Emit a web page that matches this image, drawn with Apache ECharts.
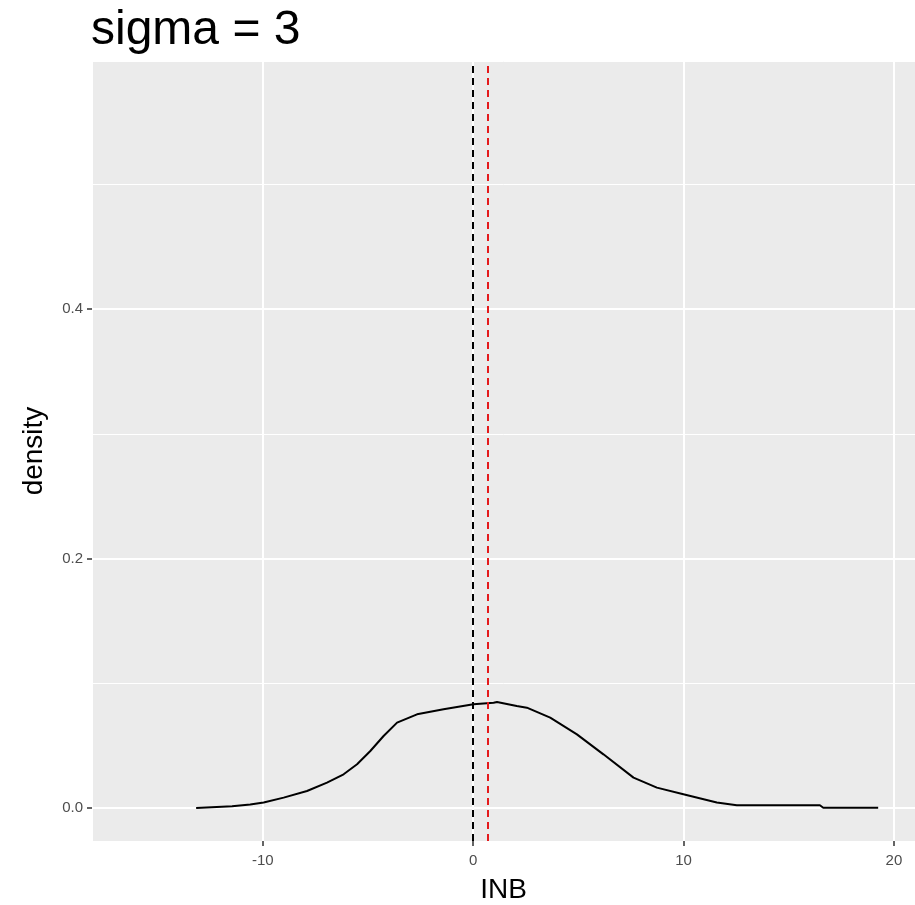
<!DOCTYPE html>
<html>
<head>
<meta charset="UTF-8">
<title>sigma = 3</title>
<script src="https://cdn.jsdelivr.net/npm/echarts@6/dist/echarts.min.js"></script>
<style>
	html, body { margin: 0; padding: 0; background: #fff; }
	#chart { width: 915px; height: 905px; }
</style>
</head>
<body>
<div id="chart"></div>
<script>
	// density curve
	var inbX = [-13.17, -11.46, -10.6, -9.96, -9.01, -7.9, -6.95, -6.16, -5.52, -4.89, -4.26, -3.62, -2.67, -1.41, 0.01, 0.97, 1.13, 2.07, 2.55, 3.66, 4.93, 6.19, 7.62, 8.73, 9.99, 11.58, 12.53, 16.48, 16.64, 19.25];
	var densityY = [0.0, 0.0014, 0.0027, 0.0043, 0.0083, 0.0136, 0.0203, 0.027, 0.035, 0.0457, 0.0577, 0.0684, 0.0751, 0.0791, 0.0831, 0.0844, 0.085, 0.0818, 0.0804, 0.0724, 0.059, 0.043, 0.0243, 0.0163, 0.011, 0.0043, 0.0022, 0.0022, 0.0002, 0.0002];
	var blackLineX = 0;
	var redLineX = 0.7;
	var xMajor = [-10, 0, 10, 20];
	var xMinor = [-15, -5, 5, 15];
	var yMajor = [0, 0.2, 0.4];
	var yMinor = [0.1, 0.3, 0.5];

	var chart = echarts.init(document.getElementById("chart"));
	var pts = [];
	for (var i = 0; i < inbX.length; i++) {
		pts.push([inbX[i], densityY[i]]);
	}
	var font = "Liberation Sans, Arial, sans-serif";

	var option = {
		animation: false,
		backgroundColor: "#ffffff",
		title: {
			text: "sigma = 3",
			left: 86,
			top: 2,
			textStyle: { fontFamily: font, fontSize: 48, fontWeight: "normal", color: "#000" }
		},
		grid: {
			left: 92, right: 0, top: 61, bottom: 64,
			outerBoundsMode: "none",
			show: true, backgroundColor: "#ebebeb", borderWidth: 0
		},
		xAxis: [{
			type: "value", min: -18.12, max: 21,
			name: "INB", nameLocation: "middle", nameGap: 35,
			nameTextStyle: { fontFamily: font, fontSize: 28, color: "#000" },
			axisLine: { show: false, onZero: false },
			axisTick: { show: true, length: 5, lineStyle: { color: "#333", width: 1.5 }, customValues: xMajor },
			axisLabel: { fontFamily: font, fontSize: 15, color: "#4d4d4d", margin: 12, customValues: xMajor },
			splitLine: { show: true, lineStyle: { color: "#fff", width: 2 }, customValues: xMajor }
		}, {
			type: "value", min: -18.12, max: 21, gridIndex: 0,
			axisLine: { show: false, onZero: false }, axisTick: { show: false },
			axisLabel: { show: false, customValues: xMinor },
			splitLine: { show: true, lineStyle: { color: "#fff", width: 1 }, customValues: xMinor }
		}],
		yAxis: [{
			type: "value", min: -0.0265, max: 0.599,
			name: "density", nameLocation: "middle", nameGap: 44,
			nameTextStyle: { fontFamily: font, fontSize: 28, color: "#000" },
			axisLine: { show: false, onZero: false },
			axisTick: { show: true, length: 5, lineStyle: { color: "#333", width: 1.5 }, customValues: yMajor },
			axisLabel: {
				fontFamily: font, fontSize: 15, color: "#4d4d4d", margin: 9, customValues: yMajor,
				formatter: function (v) { return v.toFixed(1); }
			},
			splitLine: { show: true, lineStyle: { color: "#fff", width: 2 }, customValues: yMajor }
		}, {
			type: "value", min: -0.0265, max: 0.599, gridIndex: 0,
			axisLine: { show: false, onZero: false }, axisTick: { show: false },
			axisLabel: { show: false, customValues: yMinor },
			splitLine: { show: true, lineStyle: { color: "#fff", width: 1 }, customValues: yMinor }
		}],
		series: [{
			type: "line",
			data: pts,
			symbol: "none",
			lineStyle: { color: "#000", width: 2 },
			z: 3,
			markLine: {
				symbol: "none", silent: true, animation: false,
				label: { show: false },
				data: [
					{ xAxis: blackLineX, lineStyle: { color: "#000", type: [7, 5], width: 2 } },
					{ xAxis: redLineX, lineStyle: { color: "#e41a1c", type: [7, 5], width: 2 } }
				]
			}
		}]
	};
	chart.setOption(option);
</script>
</body>
</html>
